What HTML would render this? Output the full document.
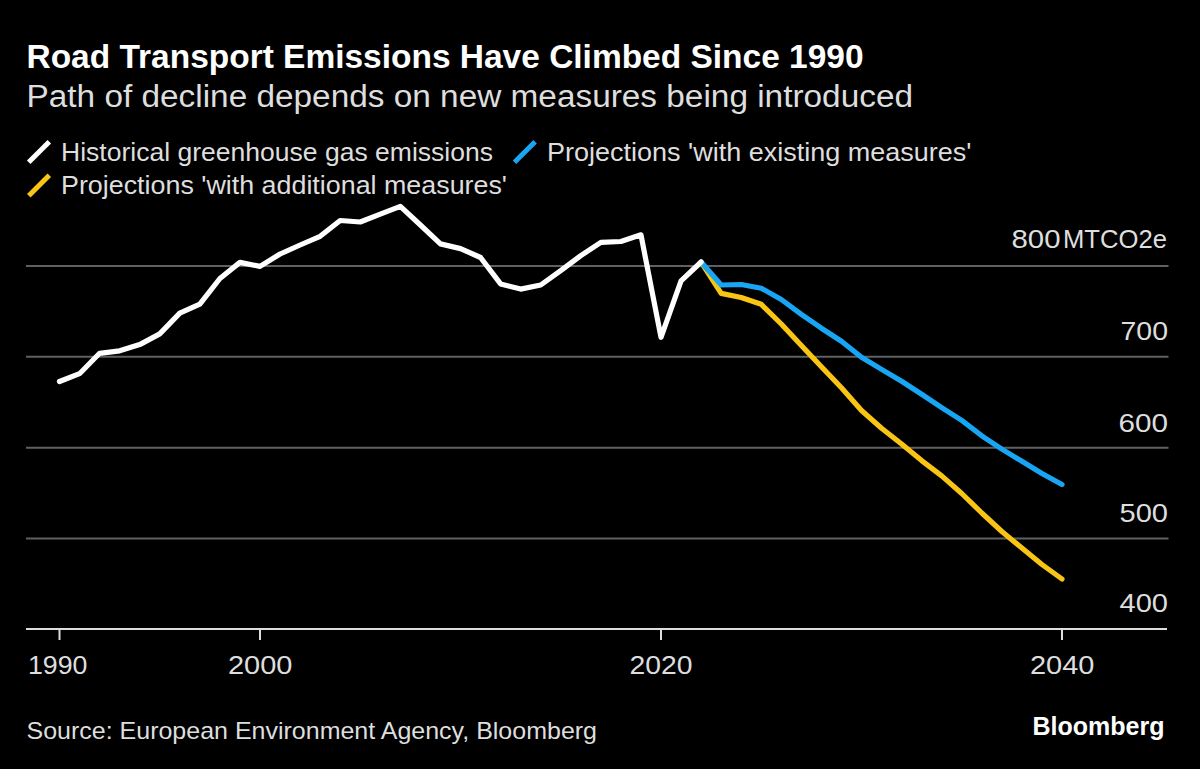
<!DOCTYPE html>
<html><head><meta charset="utf-8"><style>
html,body{margin:0;padding:0;background:#000;}
body{width:1200px;height:769px;overflow:hidden;}
svg{display:block;}
text{font-family:"Liberation Sans",Arial,sans-serif;}
</style></head><body>
<svg width="1200" height="769" viewBox="0 0 1200 769">
<rect width="1200" height="769" fill="#000"/>
<line x1="26" y1="265.9" x2="1168.5" y2="265.9" stroke="#606060" stroke-width="2"/>
<line x1="26" y1="356.8" x2="1168.5" y2="356.8" stroke="#606060" stroke-width="2"/>
<line x1="26" y1="447.7" x2="1168.5" y2="447.7" stroke="#606060" stroke-width="2"/>
<line x1="26" y1="538.6" x2="1168.5" y2="538.6" stroke="#606060" stroke-width="2"/>
<line x1="26" y1="629.1" x2="1167" y2="629.1" stroke="#ddd" stroke-width="2"/>
<line x1="59.5" y1="629" x2="59.5" y2="640" stroke="#ddd" stroke-width="2"/>
<line x1="260.0" y1="629" x2="260.0" y2="640" stroke="#ddd" stroke-width="2"/>
<line x1="661.0" y1="629" x2="661.0" y2="640" stroke="#ddd" stroke-width="2"/>
<line x1="1062.0" y1="629" x2="1062.0" y2="640" stroke="#ddd" stroke-width="2"/>
<line x1="28.7" y1="162.2" x2="49.3" y2="141.7" stroke="#fff" stroke-width="5"/>
<line x1="514.5" y1="162.2" x2="535.1" y2="141.7" stroke="#18a6f4" stroke-width="5"/>
<line x1="28.8" y1="195.8" x2="49.3" y2="175.2" stroke="#f9c514" stroke-width="5"/>
<text x="26.50" y="68.3" font-size="33" font-weight="bold" fill="#fff" textLength="837.00" lengthAdjust="spacingAndGlyphs">Road Transport Emissions Have Climbed Since 1990</text>
<text x="26.50" y="107" font-size="31" font-weight="normal" fill="#dedede" textLength="886.50" lengthAdjust="spacingAndGlyphs">Path of decline depends on new measures being introduced</text>
<text x="61.00" y="160.8" font-size="25.5" font-weight="normal" fill="#dedede" textLength="432.00" lengthAdjust="spacingAndGlyphs">Historical greenhouse gas emissions</text>
<text x="547.00" y="160.8" font-size="25.5" font-weight="normal" fill="#dedede" textLength="424.50" lengthAdjust="spacingAndGlyphs">Projections 'with existing measures'</text>
<text x="61.00" y="194.3" font-size="25.5" font-weight="normal" fill="#dedede" textLength="446.00" lengthAdjust="spacingAndGlyphs">Projections 'with additional measures'</text>
<text x="1011.50" y="247.8" font-size="26.5" font-weight="normal" fill="#dedede" textLength="49.00" lengthAdjust="spacingAndGlyphs">800</text>
<text x="1063.00" y="247.8" font-size="26.5" font-weight="normal" fill="#dedede" textLength="104.00" lengthAdjust="spacingAndGlyphs">MTCO2e</text>
<text x="1120.50" y="340.3" font-size="26.5" font-weight="normal" fill="#dedede" textLength="47.50" lengthAdjust="spacingAndGlyphs">700</text>
<text x="1118.50" y="431.5" font-size="26.5" font-weight="normal" fill="#dedede" textLength="49.50" lengthAdjust="spacingAndGlyphs">600</text>
<text x="1119.50" y="522.2" font-size="26.5" font-weight="normal" fill="#dedede" textLength="48.50" lengthAdjust="spacingAndGlyphs">500</text>
<text x="1119.50" y="612.0" font-size="26.5" font-weight="normal" fill="#dedede" textLength="48.50" lengthAdjust="spacingAndGlyphs">400</text>
<text x="28.00" y="674.0" font-size="26.5" font-weight="normal" fill="#dedede" textLength="59.50" lengthAdjust="spacingAndGlyphs">1990</text>
<text x="228.00" y="674.0" font-size="26.5" font-weight="normal" fill="#dedede" textLength="64.50" lengthAdjust="spacingAndGlyphs">2000</text>
<text x="629.50" y="674.0" font-size="26.5" font-weight="normal" fill="#dedede" textLength="63.00" lengthAdjust="spacingAndGlyphs">2020</text>
<text x="1030.00" y="674.0" font-size="26.5" font-weight="normal" fill="#dedede" textLength="64.50" lengthAdjust="spacingAndGlyphs">2040</text>
<text x="26.50" y="738.7" font-size="24" font-weight="normal" fill="#dedede" textLength="570.50" lengthAdjust="spacingAndGlyphs">Source: European Environment Agency, Bloomberg</text>
<text x="1032.50" y="735.3" font-size="25.5" font-weight="bold" fill="#fff" textLength="132.00" lengthAdjust="spacingAndGlyphs">Bloomberg</text>
<polyline points="701.10,262.0 721.15,293.4 741.20,297.5 761.25,304.3 781.30,324.0 801.35,345.5 821.40,366.8 841.45,387.8 861.50,410.5 881.55,428.2 901.60,444.0 921.65,460.6 941.70,475.9 961.75,493.5 981.80,513.0 1001.85,531.5 1021.90,548.0 1041.95,564.5 1062.00,579.0" fill="none" stroke="#f9c514" stroke-width="5.2" stroke-linejoin="round" stroke-linecap="round"/>
<polyline points="701.10,262.0 721.15,285.0 741.20,284.5 761.25,288.2 781.30,299.5 801.35,314.3 821.40,328.2 841.45,341.3 861.50,357.2 881.55,369.4 901.60,381.2 921.65,394.3 941.70,407.6 961.75,420.4 981.80,435.8 1001.85,449.1 1021.90,461.3 1041.95,473.4 1062.00,484.5" fill="none" stroke="#18a6f4" stroke-width="5.2" stroke-linejoin="round" stroke-linecap="round"/>
<polyline points="59.50,381.5 79.55,373.7 99.60,353.3 119.65,350.8 139.70,344.6 159.75,333.9 179.80,313.1 199.85,304.2 219.90,278.5 239.95,262.4 260.00,266.4 280.05,254.0 300.10,245.0 320.15,236.3 340.20,220.5 360.25,222.0 380.30,214.2 400.35,206.4 420.40,225.0 440.45,243.9 460.50,248.6 480.55,257.5 500.60,283.9 520.65,289.1 540.70,285.0 560.75,270.7 580.80,255.6 600.85,242.4 620.90,241.5 640.95,234.8 661.00,337.3 681.05,280.8 701.10,262.0" fill="none" stroke="#fff" stroke-width="5.2" stroke-linejoin="round" stroke-linecap="round"/>
</svg>
</body></html>
